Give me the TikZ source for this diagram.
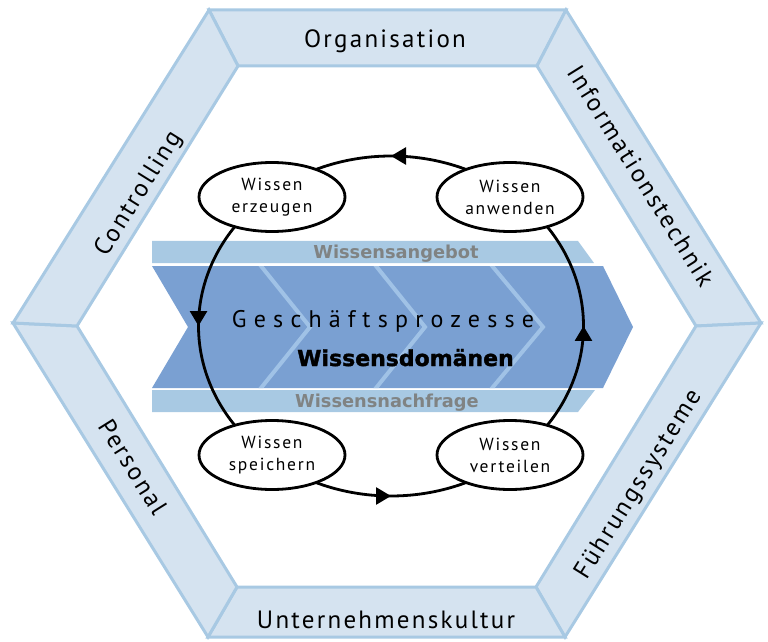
\documentclass[tikz,border=0pt]{standalone}
\usepackage{fontspec}
\setmainfont{PT Sans}
\newfontfamily\hexfont[LetterSpace=9]{PT Sans}
\newfontfamily\procfont[LetterSpace=30]{PT Sans}
\newfontfamily\wfont[LetterSpace=10]{PT Sans}
\newfontfamily\heavyfont{DejaVu Sans}
\newfontfamily\blackfont[BoldFeatures={FakeBold=1.6}]{DejaVu Sans}
\usetikzlibrary{shapes.geometric,arrows.meta,decorations.markings}

\definecolor{bandfill}{RGB}{213,227,240}
\definecolor{bandline}{RGB}{168,201,227}
\definecolor{stripfill}{RGB}{168,201,227}
\definecolor{mainfill}{RGB}{122,160,210}
\definecolor{chevline}{RGB}{160,194,230}
\definecolor{graytext}{RGB}{128,131,131}

\tikzset{
  band/.style={fill=bandfill, draw=bandline, line width=3pt, line join=miter},
  hexlabel/.style={font=\hexfont\fontsize{25}{30}\selectfont, inner sep=0pt},
  striplabel/.style={font=\heavyfont\bfseries\fontsize{17.8}{20}\selectfont, text=graytext, inner sep=0pt, anchor=base},
  knode/.style={ellipse, draw=black, fill=white, line width=2.8pt, minimum width=146pt, minimum height=69pt, inner sep=0pt, align=center, font=\wfont\fontsize{17.5}{23}\selectfont},
  loopline/.style={line width=2.8pt, postaction={decorate},
    decoration={markings, mark=at position 0.5 with {\arrow{Triangle[length=15pt,width=17pt]}}}},
  looparc/.style={x radius=192.5, y radius=170},
  chevstroke/.style={draw=chevline, line width=4pt, line join=miter}
}

\begin{document}
\begin{tikzpicture}[x=1pt,y=1pt]
\useasboundingbox (0,0) rectangle (768,641);

% hexagon vertices
\coordinate (O1) at (209,631);
\coordinate (O2) at (566,631);
\coordinate (O3) at (761,318);
\coordinate (O4) at (565,4);
\coordinate (O5) at (208,4);
\coordinate (O6) at (13,318);
\coordinate (I1) at (238,575);
\coordinate (I2) at (537,575);
\coordinate (I3) at (696,315);
\coordinate (I4) at (536,54);
\coordinate (I5) at (237,54);
\coordinate (I6) at (77,315);

\path[band] (O1) -- (O2) -- (I2) -- (I1) -- cycle;
\path[band] (O2) -- (O3) -- (I3) -- (I2) -- cycle;
\path[band] (O3) -- (O4) -- (I4) -- (I3) -- cycle;
\path[band] (O4) -- (O5) -- (I5) -- (I4) -- cycle;
\path[band] (O5) -- (O6) -- (I6) -- (I5) -- cycle;
\path[band] (O6) -- (O1) -- (I1) -- (I6) -- cycle;

\node[hexlabel, anchor=base] (org) at (385,593) {Organisation};
\node[hexlabel, anchor=base] (ukult) at (386,13) {Unternehmenskultur};
\node[hexlabel, rotate=58] (contr) at (139,447) {Controlling};
\node[hexlabel, rotate=-58] (itech) at (641,465) {Informationstechnik};
\node[hexlabel, rotate=-58] (pers) at (133,174) {Personal};
\node[hexlabel, rotate=58] (fsys) at (639,156) {Führungssysteme};

% process chevron
\fill[stripfill] (152,400) -- (578,400) -- (594,378) -- (152,378) -- cycle;
\fill[stripfill] (152,251) -- (595,251) -- (578,229) -- (152,229) -- cycle;
\fill[mainfill] (152,375) -- (603,375) -- (633,314) -- (603,253) -- (152,253) -- (188,314) -- cycle;
\begin{scope}
  \clip (152,375) -- (603,375) -- (633,314) -- (603,253) -- (152,253) -- (188,314) -- cycle;
  \draw[chevstroke] (257,380) -- (310,314) -- (257,248);
  \draw[chevstroke] (372,380) -- (425,314) -- (372,248);
  \draw[chevstroke] (488,380) -- (543,314) -- (488,248);
\end{scope}

\node[striplabel] (angebot) at (396,383) {Wissensangebot};
\node[striplabel] (nachfrage) at (387,234) {Wissensnachfrage};
\node[font=\procfont\fontsize{24}{26}\selectfont, anchor=base, inner sep=0pt] (gp) at (383,314) {Geschäftsprozesse};
\node[font=\blackfont\bfseries\fontsize{22}{24}\selectfont, anchor=base, inner sep=0pt] (wd) at (405.5,275) {Wissensdomänen};

% knowledge cycle
\coordinate (loopc) at (391,315);
\node[knode] (erz) at (272,444) {Wissen\\[-1pt]erzeugen};
\node[knode] (anw) at (510,444) {Wissen\\[-1pt]anwenden};
\node[knode] (spe) at (272,186) {Wissen\\[-1pt]speichern};
\node[knode] (ver) at (510,186) {Wissen\\[-1pt]verteilen};

\draw[loopline] ([shift={(67:192.5 and 170)}]loopc) arc[looparc, start angle=67, end angle=113];
\draw[loopline] ([shift={(144.25:192.5 and 170)}]loopc) arc[looparc, start angle=144.25, end angle=215.75];
\draw[loopline] ([shift={(247:192.5 and 170)}]loopc) arc[looparc, start angle=247, end angle=293];
\draw[loopline] ([shift={(324.25:192.5 and 170)}]loopc) arc[looparc, start angle=324.25, end angle=395.75];
\end{tikzpicture}
\end{document}
